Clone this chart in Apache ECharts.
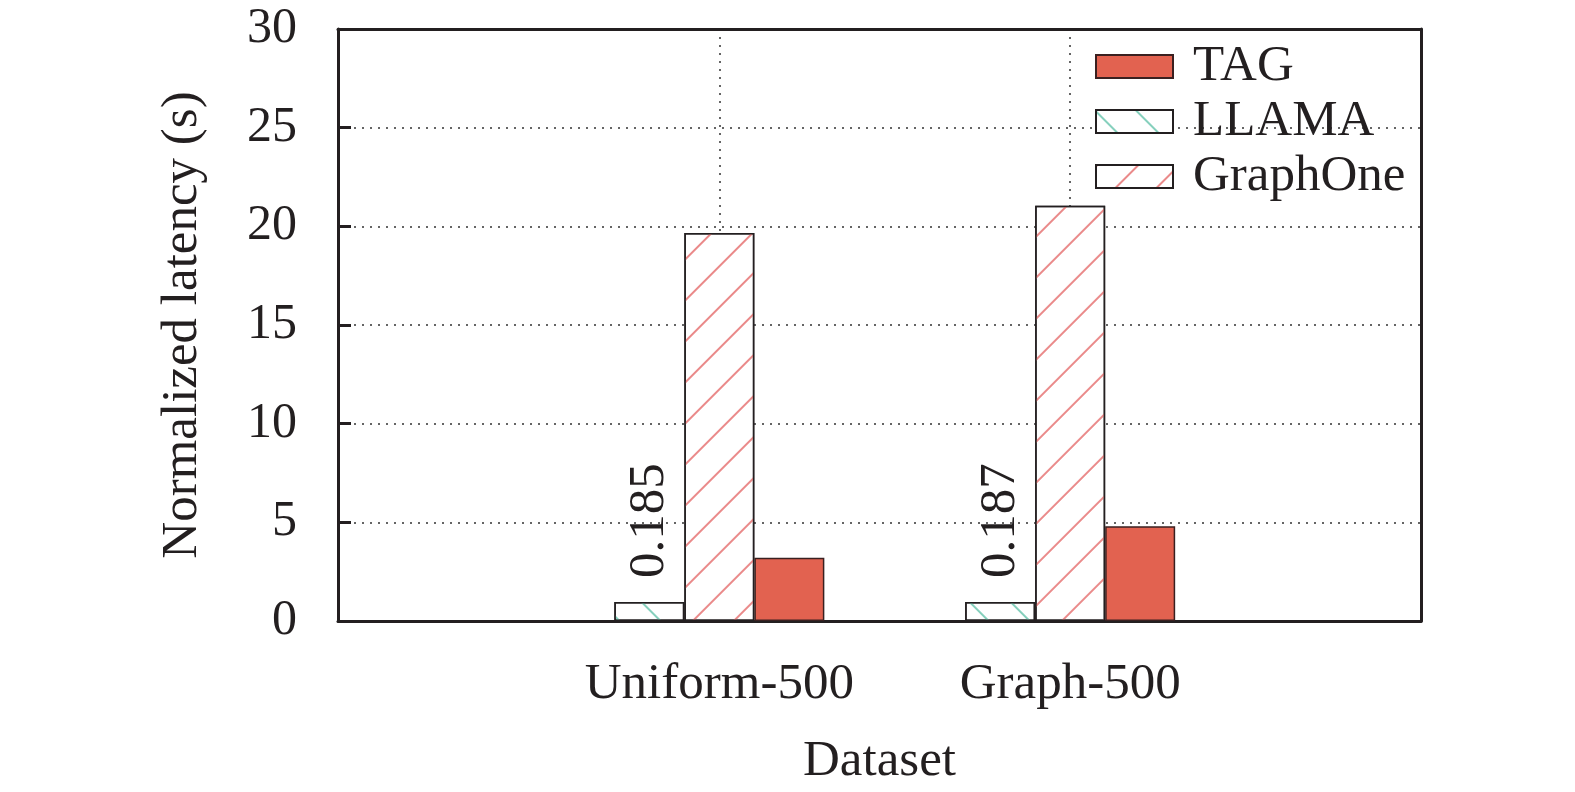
<!DOCTYPE html>
<html>
<head>
<meta charset="utf-8">
<script src="https://cdn.jsdelivr.net/npm/echarts@6/dist/echarts.min.js"></script>
<style>html,body{margin:0;padding:0;background:#fff}#c{width:1575px;height:792px}</style>
</head>
<body>
<div id="c"></div>
<script>
const categories = ['Uniform-500', 'Graph-500'];
const llama = [0.96, 0.96];
const graphOne = [19.66, 21.04];
const tag = [3.2, 4.8];
const llamaLabels = ['0.185', '0.187'];
const yTicks = [0, 5, 10, 15, 20, 25, 30];

const FONT = 'Liberation Serif';
const INK = '#231f20';

const toXY = arr => arr.map((v, i) => [i, v]);

const chart = echarts.init(document.getElementById('c'));
chart.setOption({
  backgroundColor: '#fff',
  animation: false,
  grid: { left: 338, right: 154, top: 29, bottom: 169, containLabel: false },
  legend: {
    orient: 'vertical',
    left: 1090,
    top: 36,
    itemWidth: 77,
    itemHeight: 23,
    itemGap: 4,
    icon: 'rect',
    data: ['TAG', 'LLAMA', 'GraphOne'],
    textStyle: { fontFamily: FONT, fontSize: 51, color: INK, lineHeight: 50, padding: [0, 0, 0, 15] }
  },
  xAxis: [{
    type: 'value',
    min: -1.087,
    max: 2,
    name: 'Dataset',
    nameLocation: 'middle',
    nameGap: 115,
    nameTextStyle: { fontFamily: FONT, fontSize: 51, color: INK },
    axisLine: { show: true, onZero: false, lineStyle: { color: INK, width: 3 } },
    axisTick: { show: false, customValues: [0, 1] },
    axisLabel: {
      customValues: [0, 1],
      formatter: v => categories[Math.round(v)] || '',
      fontFamily: FONT, fontSize: 51, color: INK, margin: 38
    },
    splitLine: { show: true, lineStyle: { color: '#333', type: [2, 6], width: 1.5 } }
  }, {
    type: 'value', position: 'top', min: -1.087, max: 2,
    axisLine: { show: true, onZero: false, lineStyle: { color: INK, width: 3 } },
    axisTick: { show: false }, axisLabel: { show: false }, splitLine: { show: false }
  }],
  yAxis: [{
    type: 'value',
    min: 0, max: 30, interval: 5,
    name: 'Normalized latency (s)',
    nameLocation: 'middle',
    nameGap: 130,
    nameTextStyle: { fontFamily: FONT, fontSize: 51, color: INK },
    axisLine: { show: true, onZero: false, lineStyle: { color: INK, width: 3 } },
    axisTick: { show: true, inside: true, length: 13, lineStyle: { color: INK, width: 3 } },
    axisLabel: { fontFamily: FONT, fontSize: 50, color: INK, margin: 41,
      formatter: v => yTicks.includes(v) ? String(v) : '' },
    splitLine: { show: true, lineStyle: { color: '#333', type: [2, 6], width: 1.5 } }
  }, {
    type: 'value', position: 'right', min: 0, max: 30, interval: 5,
    axisLine: { show: true, onZero: false, lineStyle: { color: INK, width: 3 } },
    axisTick: { show: false }, axisLabel: { show: false }, splitLine: { show: false }
  }],
  series: [{
    name: 'LLAMA',
    type: 'bar',
    barWidth: 70,
    barGap: '0%',
    data: toXY(llama),
    itemStyle: {
      color: '#ffffff', borderColor: INK, borderWidth: 1.5,
      decal: { symbol: 'rect', symbolSize: 1, color: '#86d0bd', dashArrayX: [1, 0], dashArrayY: [2, 27], rotation: Math.PI / 4 }
    },
    label: {
      show: true, position: 'top', rotate: 90, align: 'left', verticalAlign: 'middle', distance: 24,
      formatter: p => llamaLabels[p.dataIndex],
      fontFamily: FONT, fontSize: 51, color: INK
    }
  }, {
    name: 'GraphOne',
    type: 'bar',
    barWidth: 70,
    barGap: '0%',
    data: toXY(graphOne),
    itemStyle: {
      color: '#ffffff', borderColor: INK, borderWidth: 1.5,
      decal: { symbol: 'rect', symbolSize: 1, color: '#ea8a8a', dashArrayX: [1, 0], dashArrayY: [2, 27], rotation: -Math.PI / 4 }
    }
  }, {
    name: 'TAG',
    type: 'bar',
    barWidth: 70,
    barGap: '0%',
    data: toXY(tag),
    itemStyle: { color: '#e26250', borderColor: '#3a2020', borderWidth: 1.5 }
  }]
});
</script>
</body>
</html>
